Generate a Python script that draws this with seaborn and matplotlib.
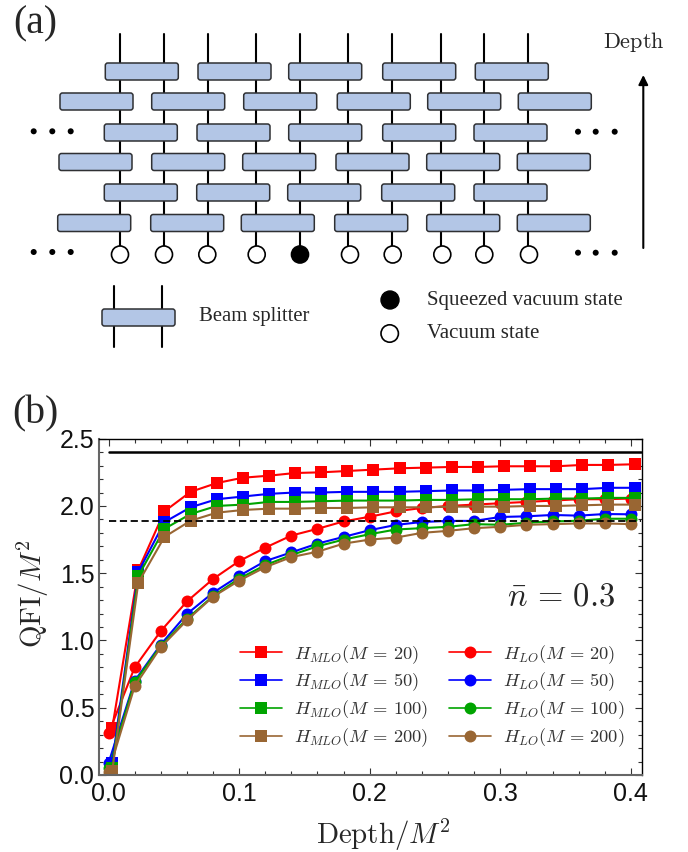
import matplotlib
matplotlib.use('Agg')
import matplotlib.pyplot as plt
from matplotlib.patches import FancyBboxPatch, Circle
from matplotlib.ticker import MultipleLocator, FormatStrFormatter
import seaborn as sns

# panel (b) data
depth_lo = [0.0, 0.02, 0.04, 0.06, 0.08, 0.10, 0.12, 0.14, 0.16, 0.18, 0.20,
            0.22, 0.24, 0.26, 0.28, 0.30, 0.32, 0.34, 0.36, 0.38, 0.40]
depth_mlo = [0.0028, 0.0228, 0.0428, 0.0628, 0.0828, 0.1028, 0.1228, 0.1428, 0.1628, 0.1828, 0.2028,
             0.2228, 0.2428, 0.2628, 0.2828, 0.3028, 0.3228, 0.3428, 0.3628, 0.3828, 0.4028]

mlo_20 = [0.35, 1.525, 1.96, 2.105, 2.17, 2.21, 2.225, 2.245, 2.25, 2.26, 2.27,
          2.28, 2.285, 2.29, 2.29, 2.295, 2.295, 2.295, 2.305, 2.305, 2.31]
mlo_50 = [0.09, 1.51, 1.88, 1.99, 2.05, 2.07, 2.09, 2.10, 2.10, 2.105, 2.105,
          2.105, 2.11, 2.115, 2.115, 2.12, 2.125, 2.125, 2.125, 2.135, 2.135]
mlo_100 = [0.05, 1.48, 1.83, 1.94, 2.00, 2.01, 2.03, 2.03, 2.035, 2.04, 2.04,
           2.04, 2.045, 2.045, 2.05, 2.05, 2.05, 2.055, 2.055, 2.06, 2.06]
mlo_200 = [0.03, 1.43, 1.77, 1.89, 1.95, 1.97, 1.98, 1.98, 1.985, 1.985, 1.99,
           1.99, 1.99, 1.995, 1.995, 1.995, 2.0, 2.0, 2.005, 2.01, 2.01]
lo_20 = [0.31, 0.80, 1.07, 1.29, 1.457, 1.59, 1.69, 1.78, 1.83, 1.885, 1.92,
         1.96, 1.985, 2.0, 2.01, 2.02, 2.03, 2.04, 2.05, 2.05, 2.055]
lo_50 = [0.09, 0.70, 0.97, 1.197, 1.355, 1.48, 1.59, 1.655, 1.72, 1.77, 1.82,
         1.859, 1.881, 1.889, 1.889, 1.918, 1.923, 1.933, 1.928, 1.94, 1.938]
lo_100 = [0.05, 0.69, 0.96, 1.16, 1.33, 1.46, 1.56, 1.635, 1.70, 1.75, 1.79,
          1.825, 1.835, 1.845, 1.865, 1.86, 1.875, 1.885, 1.89, 1.905, 1.905]
lo_200 = [0.02, 0.66, 0.95, 1.15, 1.325, 1.445, 1.545, 1.62, 1.66, 1.72, 1.75,
          1.765, 1.80, 1.815, 1.835, 1.845, 1.86, 1.865, 1.87, 1.87, 1.865]

sizes = [20, 50, 100, 200]
colors = ['#ff0000', '#0000ff', '#00a400', '#996633']
bound_solid = 2.40
bound_dashed = 1.886

# panel (a) schematic, in image pixels
wire_x = [119.7, 163.7, 208, 255.7, 299.7, 348, 392.3, 441, 484, 528.3]
circle_x = [120, 164, 207.3, 256.7, 300, 350, 392.7, 442.3, 484.3, 529]
squeezed_index = 4
bs_rows = [
    (63, [105.3, 198, 288.7, 382.7, 475.3]),
    (93, [60, 151.7, 243.7, 337.3, 427.7, 518.3]),
    (124, [104.3, 197, 288.7, 382.7, 474]),
    (153.5, [59, 151.7, 242.7, 336, 426.7, 517.3]),
    (184, [104.3, 196.7, 287.7, 381.7, 474]),
    (214.5, [57.7, 150.7, 241.3, 334.7, 426.7, 517.3]),
]
dots = [(33.7, 131.3), (52.3, 131.3), (70.7, 131.3), (33.7, 252), (52.3, 252), (70.7, 252),
        (578, 131.7), (595.7, 131.7), (614.7, 131.7), (578, 252.7), (595.7, 252.7), (614.7, 252.7)]

sns.set_theme(style='ticks')
plt.rcParams['font.family'] = ['Liberation Sans', 'DejaVu Sans']
plt.rcParams['mathtext.fontset'] = 'cm'

fig = plt.figure(figsize=(6.88, 8.52), dpi=100)

dg = fig.add_axes([0, 0, 1, 1])
dg.set_xlim(0, 688)
dg.set_ylim(852, 0)
dg.axis('off')


def splitter(x, y):
    dg.add_patch(FancyBboxPatch((x + 2.5, y + 2.5), 68, 12, boxstyle='round,pad=2.5,rounding_size=2.5',
                                fc='#b3c6e6', ec='#2f3033', lw=1.1, zorder=3))


for x in wire_x:
    dg.plot([x, x], [34, 254], color='black', lw=1.5, zorder=1)
for y, lefts in bs_rows:
    for x in lefts:
        splitter(x, y)
for i, x in enumerate(circle_x):
    fc = 'black' if i == squeezed_index else 'white'
    dg.add_patch(Circle((x, 254.5), 8.5, fc=fc, ec='black', lw=1.2, zorder=4))
for x, y in dots:
    dg.add_patch(Circle((x, y), 3, fc='black', ec='none'))

dg.annotate('', xy=(643.3, 75), xytext=(643.3, 248),
            arrowprops=dict(arrowstyle='-|>', color='black', lw=1.5, mutation_scale=14, shrinkA=0, shrinkB=0))
dg.text(634, 42, r'$\mathrm{Depth}$', fontsize=16, ha='center', va='center')

# key below the schematic
for x in [114, 161.7]:
    dg.plot([x, x], [285.7, 347.3], color='black', lw=1.5, zorder=1)
splitter(102, 309)
dg.text(198.7, 316, 'Beam splitter', family='Liberation Serif', fontsize=14.9, va='center')
dg.add_patch(Circle((390, 300), 9, fc='black', ec='black'))
dg.add_patch(Circle((389.7, 333.5), 8.7, fc='white', ec='black', lw=1.2))
dg.text(427.3, 300, 'Squeezed vacuum state', family='Liberation Serif', fontsize=15, va='center')
dg.text(427.3, 334, 'Vacuum state', family='Liberation Serif', fontsize=15, va='center')
dg.text(13, 24, '(a)', family='Liberation Serif', fontsize=28.5, va='center')
dg.text(12, 413.5, '(b)', family='Liberation Serif', fontsize=28.5, va='center')

# panel (b)
ax = fig.add_axes([98.5 / 688, 1 - 775 / 852, 543.5 / 688, 336.3 / 852])
ax.patch.set_alpha(0)

lo_series = [lo_20, lo_50, lo_100, lo_200]
mlo_series = [mlo_20, mlo_50, mlo_100, mlo_200]
for vals, c, m in zip(lo_series, colors, sizes):
    sns.lineplot(x=depth_lo, y=vals, color=c, marker='o', markersize=8.6, markeredgewidth=0,
                 linewidth=1.5, errorbar=None, ax=ax, label=rf'$H_{{LO}}(M\,=\,{m})$')
for vals, c, m in zip(mlo_series, colors, sizes):
    sns.lineplot(x=depth_mlo, y=vals, color=c, marker='s', markersize=8.6, markeredgewidth=0,
                 linewidth=1.5, errorbar=None, ax=ax, label=rf'$H_{{MLO}}(M\,=\,{m})$')

ax.plot([0, 0.408], [bound_solid, bound_solid], color='black', lw=1.8)
ax.plot([0, 0.408], [bound_dashed, bound_dashed], color='black', lw=1.3, dashes=(4, 2))

ax.set_xlim(-0.0077, 0.4085)
ax.set_ylim(0, 2.5)
ax.xaxis.set_major_locator(MultipleLocator(0.1))
ax.xaxis.set_minor_locator(MultipleLocator(0.02))
ax.yaxis.set_major_locator(MultipleLocator(0.5))
ax.yaxis.set_minor_locator(MultipleLocator(0.1))
ax.xaxis.set_major_formatter(FormatStrFormatter('%.1f'))
ax.yaxis.set_major_formatter(FormatStrFormatter('%.1f'))
ax.tick_params(which='major', direction='in', top=True, right=True, length=5, width=0.8, color='#333333',
               labelsize=18, labelcolor='#111111', pad=5)
ax.tick_params(which='minor', direction='in', top=True, right=True, length=3, width=0.8, color='#333333')
ax.tick_params(axis='y', which='major', pad=3)
for s in ['left', 'bottom']:
    ax.spines[s].set_color('#666666')
    ax.spines[s].set_linewidth(1.5)
for s in ['top', 'right']:
    ax.spines[s].set_color('black')
    ax.spines[s].set_linewidth(1.0)
    ax.spines[s].set_visible(True)

ax.set_xlabel(r'$\mathrm{Depth}/M^2$', fontsize=20.8)
ax.set_ylabel(r'$\mathrm{QFI}/M^2$', fontsize=20.8)
ax.xaxis.set_label_coords(0.525, -0.126)
ax.yaxis.set_label_coords(-0.087, 0.54)

ax.text(0.305, 1.32, r'$\bar{n}\,=\,0.3$', fontsize=23.5, ha='left', va='center')

handles, labels = ax.get_legend_handles_labels()
order = [4, 5, 6, 7, 0, 1, 2, 3]
leg = ax.legend([handles[i] for i in order], [labels[i] for i in order], ncol=2, frameon=False, fontsize=13.3,
                handlelength=2.3, handletextpad=0.62, columnspacing=1.13, labelspacing=0.28,
                loc='lower left', bbox_to_anchor=(0.26, 0.077), borderaxespad=0, borderpad=0)
for h in leg.get_lines():
    h.set_linewidth(1.2)
for t in leg.get_texts():
    t.set_color('#333333')

fig.savefig('out.png', dpi=100)
